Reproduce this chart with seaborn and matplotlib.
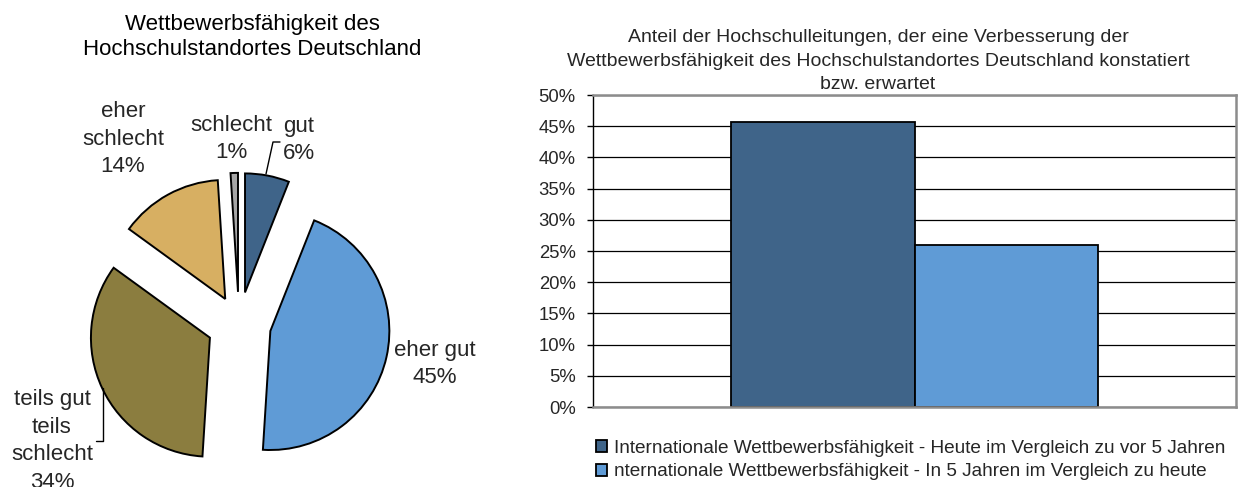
import matplotlib
matplotlib.use("Agg")
import matplotlib.pyplot as plt
from matplotlib.lines import Line2D
from matplotlib.ticker import PercentFormatter, MultipleLocator
import seaborn as sns
import pandas as pd

# ---- data -------------------------------------------------------------
pie_labels = ["gut", "eher gut", "teils gut\nteils\nschlecht", "eher schlecht", "schlecht"]
pie_values = [6, 45, 34, 14, 1]
pie_colors = ["#3F6489", "#5F9BD6", "#8B7D3F", "#D7AF62", "#A6A6A6"]

bar_series = [
    "Internationale Wettbewerbsfähigkeit - Heute im Vergleich zu vor 5 Jahren",
    "nternationale Wettbewerbsfähigkeit - In 5 Jahren im Vergleich zu heute",
]
bar_values = [0.457, 0.260]
bar_colors = ["#3F6489", "#5F9BD6"]

left_title = "Wettbewerbsfähigkeit des\nHochschulstandortes Deutschland"
right_title = ("Anteil der Hochschulleitungen, der eine Verbesserung der\n"
               "Wettbewerbsfähigkeit des Hochschulstandortes Deutschland konstatiert\n"
               "bzw. erwartet")

# ---- figure -----------------------------------------------------------
sns.set_style("white")
plt.rcParams["font.family"] = ["Liberation Sans", "DejaVu Sans"]

W, H = 1243, 487
DPI = 100
fig = plt.figure(figsize=(W / DPI, H / DPI), dpi=DPI)


def fx(x):
    return x / W


def fy(y):
    return 1 - y / H


# ---- pie (left) -------------------------------------------------------
pie_w = 522
r_px = 119
cx, cy = 239, H - 324
ax1 = fig.add_axes([0, 0, pie_w / W, 1])
explode = [0.27, 0.27, 0.27, 0.24, 0.27]
ax1.pie(pie_values, colors=pie_colors, explode=explode, startangle=90,
        counterclock=False,
        wedgeprops=dict(edgecolor="black", linewidth=1.4))
ax1.set_aspect("auto")
ax1.set_xlim(-cx / r_px, (pie_w - cx) / r_px)
ax1.set_ylim(-cy / r_px, (H - cy) / r_px)
ax1.axis("off")

fig.text(fx(252), fy(37), left_title, ha="center", va="center", fontsize=16,
         color="black")

pie_text = [
    ("gut\n6%", 299, 140),
    ("eher gut\n45%", 435, 364),
    ("teils gut\nteils\nschlecht\n34%", 52, 441),
    ("eher\nschlecht\n14%", 123, 139),
    ("schlecht\n1%", 231, 139),
]
for (txt, x, y), val in zip(pie_text, pie_values):
    fig.text(fx(x), fy(y), txt, ha="center", va="center", fontsize=16,
             linespacing=1.4)

# leader lines for the two labels that sit away from their wedges
fig.add_artist(Line2D([fx(266), fx(273), fx(280)], [fy(174), fy(142), fy(142)],
                      color="black", lw=1.0, transform=fig.transFigure))
fig.add_artist(Line2D([fx(103), fx(103), fx(96)], [fy(388), fy(441), fy(441)],
                      color="black", lw=1.0, transform=fig.transFigure))

# ---- bars (right) -----------------------------------------------------
ax2 = fig.add_axes([fx(593), fy(407), (1236 - 593) / W, (407 - 95) / H])
df = pd.DataFrame({"Gruppe": ["", ""], "Serie": bar_series, "Anteil": bar_values})
sns.barplot(data=df, x="Gruppe", y="Anteil", hue="Serie", palette=bar_colors,
            width=0.57, edgecolor="black", linewidth=1.3, saturation=1,
            ax=ax2)
ax2.set_ylim(0, 0.5)
ax2.set_xlim(-0.5, 0.5)
ax2.yaxis.set_major_locator(MultipleLocator(0.05))
ax2.yaxis.set_major_formatter(PercentFormatter(xmax=1, decimals=0))
ax2.set_xlabel("")
ax2.set_ylabel("")
ax2.set_xticks([])
ax2.tick_params(axis="y", direction="out", length=4.5, width=1, color="black",
                labelsize=13.3, pad=8, left=True)
ax2.set_axisbelow(True)
ax2.yaxis.grid(True, color="black", lw=0.9)
for side in ("top", "right", "bottom"):
    ax2.spines[side].set_color("#8C8C8C")
    ax2.spines[side].set_linewidth(1.8)
ax2.spines["left"].set_color("black")
ax2.spines["left"].set_linewidth(1.0)

fig.text(fx(878), fy(61), right_title, ha="center", va="center", fontsize=14,
         linespacing=1.5)

sns.move_legend(ax2, loc="upper left", bbox_to_anchor=(fx(596), fy(440)),
                bbox_transform=fig.transFigure, frameon=False, title=None,
                fontsize=13.7, borderpad=0, borderaxespad=0, handlelength=0.6,
                handleheight=0.6, handletextpad=0.35, labelspacing=0.33)

fig.savefig("out.png", dpi=DPI)
